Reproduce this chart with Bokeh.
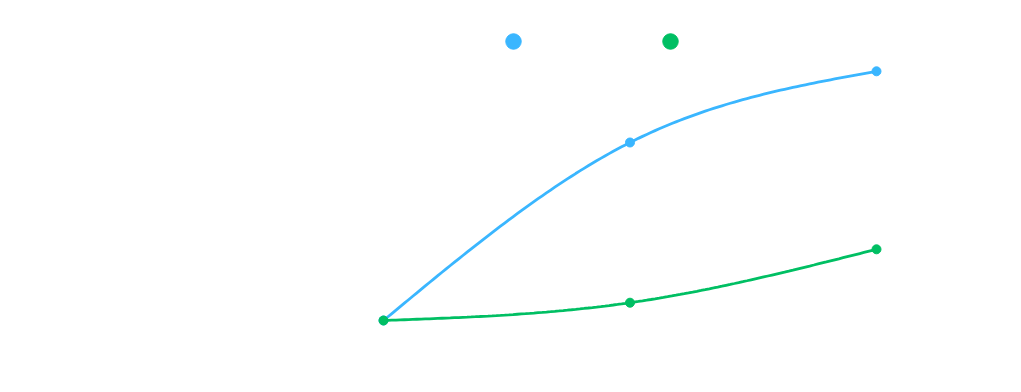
import numpy as np
from bokeh.plotting import figure
from bokeh.models import Range1d
from bokeh.embed import file_html
from bokeh.resources import INLINE

# data
categories = ["A", "B", "C"]
series_names = ["Series 1", "Series 2"]
blue_values = [0, 100, 140]
green_values = [0, 10, 40]
colors = ["#3AB6FF", "#00BF63"]


def monotone_x(xs, ys, n=60):
    xs = np.asarray(xs, float)
    ys = np.asarray(ys, float)
    h = np.diff(xs)
    s = np.diff(ys) / h
    m = len(xs)
    t = np.zeros(m)
    for i in range(1, m - 1):
        p = (s[i - 1] * h[i] + s[i] * h[i - 1]) / (h[i - 1] + h[i])
        t[i] = (np.sign(s[i - 1]) + np.sign(s[i])) * min(abs(s[i - 1]), abs(s[i]), 0.5 * abs(p))
    t[0] = (3 * s[0] - t[1]) / 2 if m > 2 else s[0]
    t[-1] = (3 * s[-1] - t[-2]) / 2 if m > 2 else s[-1]
    ox, oy = [], []
    for i in range(m - 1):
        u = np.linspace(0, 1, n)
        x0, x1 = xs[i], xs[i + 1]
        y0, y1 = ys[i], ys[i + 1]
        dx = x1 - x0
        cx0, cy0 = x0 + dx / 3, y0 + t[i] * dx / 3
        cx1, cy1 = x1 - dx / 3, y1 - t[i + 1] * dx / 3
        bx = (1 - u) ** 3 * x0 + 3 * (1 - u) ** 2 * u * cx0 + 3 * (1 - u) * u ** 2 * cx1 + u ** 3 * x1
        by = (1 - u) ** 3 * y0 + 3 * (1 - u) ** 2 * u * cy0 + 3 * (1 - u) * u ** 2 * cy1 + u ** 3 * y1
        ox.extend(bx.tolist())
        oy.extend(by.tolist())
    return ox, oy


W, H = 1005, 376
px_x = 246.5
px_y = 1.78
x_start = -383 / px_x
x_end = x_start + W / px_x
y_start = -(H - 320) / px_y
y_end = y_start + H / px_y

p = figure(width=W, height=H, output_backend="svg", toolbar_location=None,
           x_range=Range1d(x_start, x_end), y_range=Range1d(y_start, y_end),
           min_border=0, outline_line_color=None)
p.axis.visible = False
p.grid.visible = False
p.background_fill_color = "white"
p.border_fill_color = "white"

xs = list(range(len(categories)))
for vals, c in zip([blue_values, green_values], colors):
    cx, cy = monotone_x(xs, vals)
    p.line(cx, cy, line_color=c, line_width=2.8)
    p.scatter(xs, vals, size=9, fill_color=c, line_color=c)

# legend markers (labels are not visible in the reference)
leg_x = [x_start + 513 / px_x, x_start + 670 / px_x]
leg_y = y_start + (H - 41) / px_y
p.scatter(leg_x, [leg_y, leg_y], size=15.5, fill_color=colors, line_color=colors)

open("out.html", "w").write(file_html(p, INLINE))
